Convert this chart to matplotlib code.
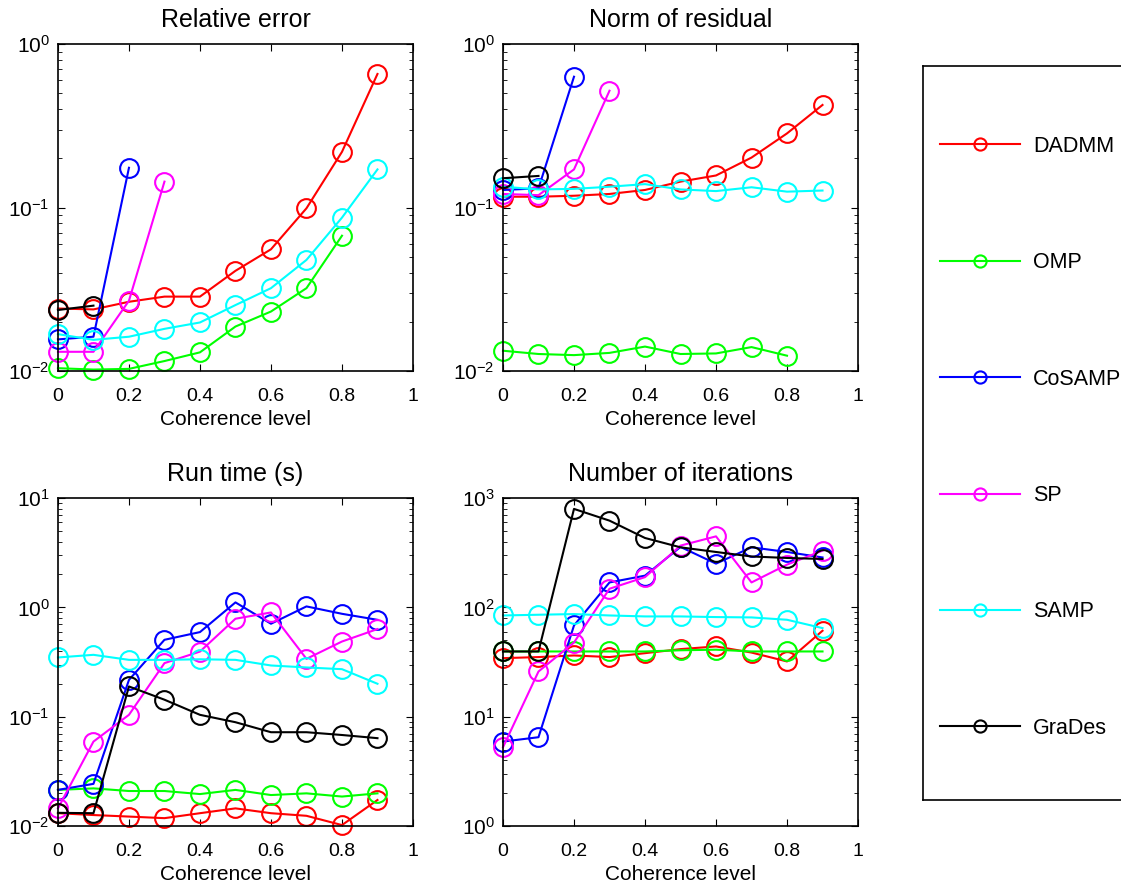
import matplotlib
matplotlib.use("Agg")
import matplotlib.pyplot as plt
from matplotlib.ticker import LogLocator, NullFormatter

plt.rcParams['font.family'] = ['Liberation Sans', 'DejaVu Sans']
plt.rcParams['mathtext.default'] = 'regular'

coherence = [0, 0.1, 0.2, 0.3, 0.4, 0.5, 0.6, 0.7, 0.8, 0.9]
xticks = [0, 0.2, 0.4, 0.6, 0.8, 1]
xticklabels = ['0', '0.2', '0.4', '0.6', '0.8', '1']

methods = ['DADMM', 'OMP', 'CoSAMP', 'SP', 'SAMP', 'GraDes']
colors = ['#ff0000', '#00ff00', '#0000ff', '#ff00ff', '#00ffff', '#000000']

# relative error
err_dadmm = [0.0241, 0.0238, 0.0265, 0.0285, 0.0285, 0.041, 0.0555, 0.0989, 0.219, 0.656]
err_omp = [0.0104, 0.0102, 0.0103, 0.0115, 0.0130, 0.0187, 0.0231, 0.0321, 0.0672]
err_cosamp = [0.0156, 0.0162, 0.175]
err_sp = [0.0131, 0.0131, 0.0269, 0.144]
err_samp = [0.0168, 0.0155, 0.0162, 0.0181, 0.0198, 0.0253, 0.0321, 0.0478, 0.0867, 0.171]
err_grades = [0.0236, 0.0251]

# norm of residual
res_dadmm = [0.1164, 0.1164, 0.118, 0.121, 0.128, 0.144, 0.157, 0.202, 0.284, 0.424]
res_omp = [0.0133, 0.0127, 0.0125, 0.0129, 0.0141, 0.0127, 0.0128, 0.0140, 0.0124]
res_cosamp = [0.128, 0.131, 0.631]
res_sp = [0.121, 0.119, 0.171, 0.518]
res_samp = [0.134, 0.129, 0.130, 0.134, 0.139, 0.129, 0.126, 0.133, 0.125, 0.127]
res_grades = [0.151, 0.156]

# run time (s)
time_dadmm = [0.0131, 0.0126, 0.0122, 0.0118, 0.0131, 0.0145, 0.0131, 0.0124, 0.0102, 0.0173]
time_omp = [0.0214, 0.0221, 0.0209, 0.0209, 0.0196, 0.0214, 0.0192, 0.0199, 0.0186, 0.0199]
time_cosamp = [0.0214, 0.0243, 0.217, 0.505, 0.594, 1.11, 0.708, 1.02, 0.873, 0.769]
time_sp = [0.0145, 0.0592, 0.104, 0.309, 0.394, 0.787, 0.898, 0.338, 0.487, 0.633]
time_samp = [0.348, 0.368, 0.331, 0.331, 0.335, 0.331, 0.294, 0.282, 0.272, 0.2]
time_grades = [0.0132, 0.0131, 0.189, 0.143, 0.104, 0.089, 0.0721, 0.0721, 0.068, 0.0636]

# number of iterations
iter_dadmm = [34.3, 35.1, 36.3, 35.1, 38.1, 41.5, 43.9, 38.6, 32.0, 61.1]
iter_omp = [39.5, 39.5, 39.5, 39.5, 39.5, 40.5, 41.0, 39.5, 39.5, 39.5]
iter_cosamp = [5.92, 6.49, 68.3, 169, 195, 357, 251, 354, 321, 286]
iter_sp = [5.25, 25.9, 47.7, 148, 189, 367, 446, 169, 246, 330]
iter_samp = [84.3, 85.6, 86.8, 84.3, 82.6, 82.6, 81.5, 80.9, 77.0, 64.6]
iter_grades = [39.5, 39.5, 795, 621, 431, 354, 321, 292, 283, 277]

panels = [
    ('Relative error', (1e-2, 1e0),
     [err_dadmm, err_omp, err_cosamp, err_sp, err_samp, err_grades]),
    ('Norm of residual', (1e-2, 1e0),
     [res_dadmm, res_omp, res_cosamp, res_sp, res_samp, res_grades]),
    ('Run time (s)', (1e-2, 1e1),
     [time_dadmm, time_omp, time_cosamp, time_sp, time_samp, time_grades]),
    ('Number of iterations', (1e0, 1e3),
     [iter_dadmm, iter_omp, iter_cosamp, iter_sp, iter_samp, iter_grades]),
]

fig = plt.figure(figsize=(11.21, 8.86), dpi=100)

rects = [
    [0.0517, 0.5813, 0.3167, 0.3690],
    [0.4487, 0.5813, 0.3167, 0.3690],
    [0.0517, 0.0677, 0.3167, 0.3702],
    [0.4487, 0.0677, 0.3167, 0.3702],
]

handles = []
for rect, (title, ylim, series) in zip(rects, panels):
    ax = fig.add_axes(rect)
    lines = []
    for vals, c in zip(series, colors):
        ln, = ax.plot(coherence[:len(vals)], vals, '-o', color=c, lw=1.5,
                      markersize=13.5, markerfacecolor='none', markeredgewidth=1.5,
                      clip_on=False)
        lines.append(ln)
    handles = lines
    ax.set_yscale('log')
    ax.set_xlim(0, 1)
    ax.set_ylim(*ylim)
    ax.set_xticks(xticks)
    ax.set_xticklabels(xticklabels)
    ax.yaxis.set_major_locator(LogLocator(base=10, numticks=10))
    ax.yaxis.set_minor_locator(LogLocator(base=10, subs=range(2, 10), numticks=10))
    ax.yaxis.set_minor_formatter(NullFormatter())
    ax.tick_params(which='both', direction='in', top=True, right=True, labelsize=14)
    ax.tick_params(which='major', length=5, width=0.8)
    ax.tick_params(which='minor', length=3, width=0.6)
    ax.tick_params(axis='x', pad=12)
    ax.tick_params(axis='y', pad=6, labelsize=15)
    for sp in ax.spines.values():
        sp.set_linewidth(1.2)
    ax.set_title(title, fontsize=18, pad=12)
    ax.set_xlabel('Coherence level', fontsize=15, labelpad=4)

# legend box on the right, running off the figure edge
lax = fig.add_axes([0.8234, 0.0971, 0.3, 0.8284])
lax.set_xticks([])
lax.set_yticks([])
for sp in lax.spines.values():
    sp.set_linewidth(1.2)
lax.legend(handles, methods, loc='center left', bbox_to_anchor=(0.05, 0.494),
           frameon=False, fontsize=15.5, labelspacing=4.43, handlelength=3.72,
           handletextpad=0.6, markerscale=0.65, borderpad=0, borderaxespad=0)

fig.savefig('out.png', dpi=100)
